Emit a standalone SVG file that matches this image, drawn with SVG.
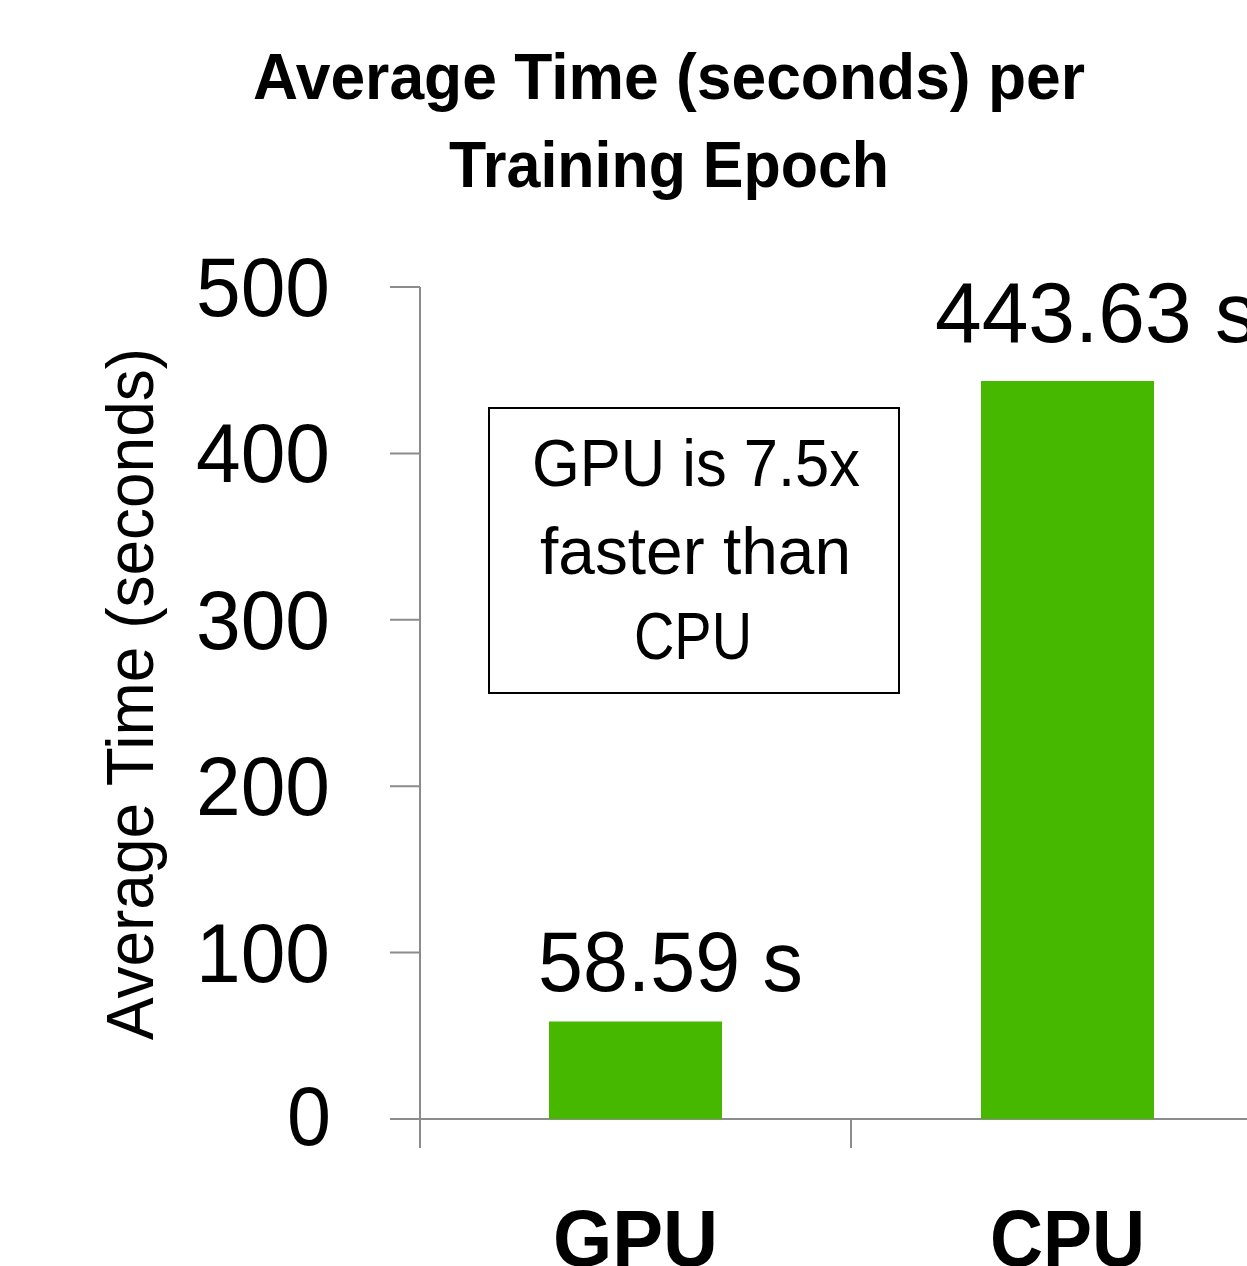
<svg xmlns="http://www.w3.org/2000/svg" width="1247" height="1266" viewBox="0 0 1247 1266">
<style>
.t{font-family:"Liberation Sans",Arial,sans-serif;fill:#000}
.b{font-weight:bold}
.ax{stroke:#8c8c8c;stroke-width:2;fill:none}
.bar{fill:#47b800}
</style>
<rect width="1247" height="1266" fill="#fff"/>
<g id="title">
<text class="t b" x="253" y="99" font-size="64" textLength="832" lengthAdjust="spacingAndGlyphs">Average Time (seconds) per</text>
<text class="t b" x="449" y="187" font-size="64" textLength="440" lengthAdjust="spacingAndGlyphs">Training Epoch</text>
</g>
<g id="axes">
<path class="ax" d="M420 287V1148M390 1119H1247M851 1119V1148M390 287H420M390 453.4H420M390 619.8H420M390 786.2H420M390 952.6H420"/>
</g>
<g id="y-labels" text-anchor="end">
<text class="t" x="330" y="316" font-size="84" textLength="134" lengthAdjust="spacingAndGlyphs">500</text>
<text class="t" x="330" y="482" font-size="84" textLength="134" lengthAdjust="spacingAndGlyphs">400</text>
<text class="t" x="330" y="649" font-size="84" textLength="134" lengthAdjust="spacingAndGlyphs">300</text>
<text class="t" x="330" y="815" font-size="84" textLength="134" lengthAdjust="spacingAndGlyphs">200</text>
<text class="t" x="330" y="982" font-size="84" textLength="134" lengthAdjust="spacingAndGlyphs">100</text>
<text class="t" x="331" y="1145" font-size="84" textLength="44" lengthAdjust="spacingAndGlyphs">0</text>
</g>
<g id="y-title">
<text class="t" x="153" y="1040" font-size="67" transform="rotate(-90 153 1040)" textLength="692" lengthAdjust="spacingAndGlyphs">Average Time (seconds)</text>
</g>
<g id="bar-gpu">
<rect class="bar" x="549" y="1021.5" width="173" height="97.5"/>
<text class="t" x="538" y="991" font-size="85" textLength="265" lengthAdjust="spacingAndGlyphs">58.59 s</text>
</g>
<g id="bar-cpu">
<rect class="bar" x="981" y="381" width="173" height="738"/>
<text class="t" x="935" y="342" font-size="85" textLength="322" lengthAdjust="spacingAndGlyphs">443.63 s</text>
</g>
<g id="note">
<rect x="489" y="408" width="410" height="285" fill="#fff" stroke="#000" stroke-width="2"/>
<text class="t" x="532" y="486" font-size="66" textLength="328" lengthAdjust="spacingAndGlyphs">GPU is 7.5x</text>
<text class="t" x="540" y="574" font-size="66" textLength="311" lengthAdjust="spacingAndGlyphs">faster than</text>
<text class="t" x="634" y="659" font-size="66" textLength="118" lengthAdjust="spacingAndGlyphs">CPU</text>
</g>
<g id="x-labels">
<text class="t b" x="553" y="1266" font-size="80" textLength="165" lengthAdjust="spacingAndGlyphs">GPU</text>
<text class="t b" x="990" y="1266" font-size="80" textLength="155" lengthAdjust="spacingAndGlyphs">CPU</text>
</g>
</svg>
